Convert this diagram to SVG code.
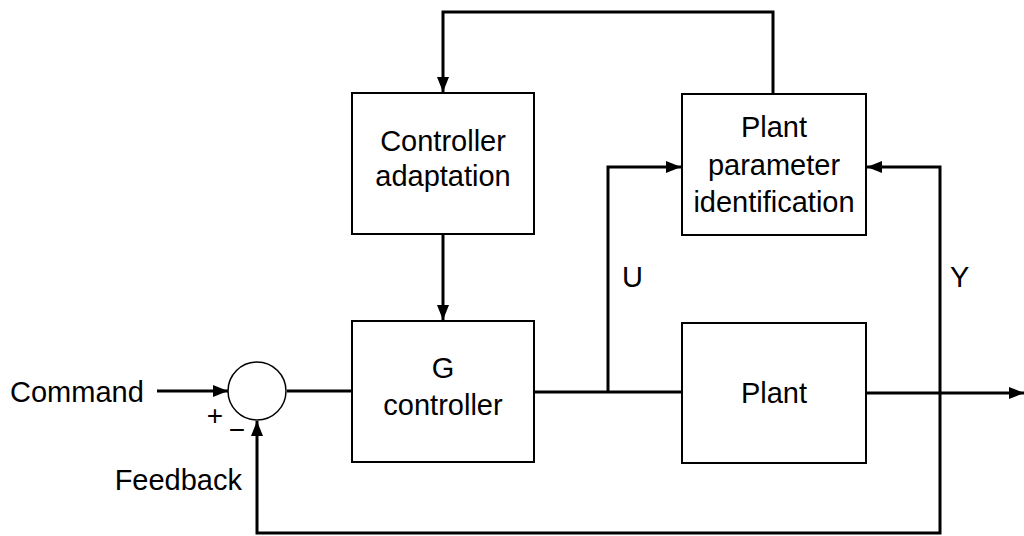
<svg xmlns="http://www.w3.org/2000/svg" width="1024" height="536" viewBox="0 0 1024 536">
<defs>
<marker id="arr" markerUnits="userSpaceOnUse" markerWidth="16" markerHeight="12" refX="15" refY="6" orient="auto">
<path d="M0,0 L15,6 L0,12 z" fill="#000"/>
</marker>
<style>
.box{fill:#fff;stroke:#000;stroke-width:2}
.c{fill:none;stroke:#000;stroke-width:3}
.ca{fill:none;stroke:#000;stroke-width:3;marker-end:url(#arr)}
text{font-family:"Liberation Sans",Arial,sans-serif;font-size:29px;fill:#000}
.m{text-anchor:middle}
</style>
</defs>
<rect width="1024" height="536" fill="#fff"/>
<g id="connectors">
<line class="ca" x1="157" y1="391" x2="228" y2="391"/>
<line class="c" x1="287" y1="391" x2="352" y2="391"/>
<line class="c" x1="534" y1="392" x2="682" y2="392"/>
<polyline class="ca" points="608,392 608,167 681,167"/>
<line class="ca" x1="866" y1="393" x2="1024" y2="393"/>
<polyline class="ca" points="940,393 940,167 867,167"/>
<polyline class="ca" points="940,393 940,533 257,533 257,421"/>
<polyline class="ca" points="773,94 773,12 443,12 443,92"/>
<line class="ca" x1="443" y1="234" x2="443" y2="320"/>
</g>
<g id="sum">
<circle cx="257" cy="391" r="29" fill="#fff" stroke="#000" stroke-width="1.5"/>
<text x="215" y="425" class="m" style="font-size:28px">+</text>
<text x="237" y="439" class="m" style="font-size:28px">−</text>
</g>
<g id="controller-adaptation">
<rect class="box" x="352" y="93" width="182" height="141"/>
<text x="443" y="151" class="m">Controller</text>
<text x="443" y="186" class="m">adaptation</text>
</g>
<g id="plant-parameter-identification">
<rect class="box" x="682" y="94" width="184" height="141"/>
<text x="774" y="137" class="m">Plant</text>
<text x="774" y="175" class="m">parameter</text>
<text x="774" y="212" class="m">identification</text>
</g>
<g id="g-controller">
<rect class="box" x="352" y="321" width="182" height="141"/>
<text x="443" y="378" class="m">G</text>
<text x="443" y="415" class="m">controller</text>
</g>
<g id="plant">
<rect class="box" x="682" y="323" width="184" height="140"/>
<text x="774" y="403" class="m">Plant</text>
</g>
<g id="labels">
<text x="10" y="402">Command</text>
<text x="242" y="490" text-anchor="end">Feedback</text>
<text x="622" y="287">U</text>
<text x="950" y="287">Y</text>
</g>
</svg>
